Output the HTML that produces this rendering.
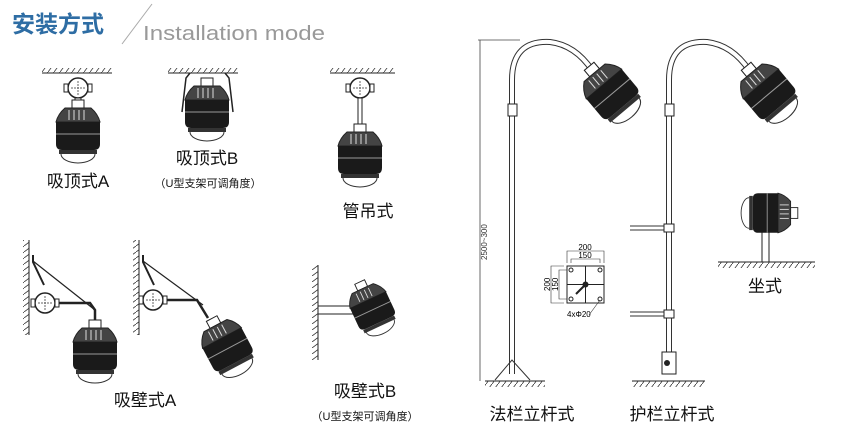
<!DOCTYPE html>
<html><head><meta charset="utf-8"><style>
html,body{margin:0;padding:0;background:#fff;}
svg{display:block;}
text{font-family:"Liberation Sans","Noto Sans CJK SC",sans-serif;}
</style></head><body>
<svg width="860" height="435" viewBox="0 0 860 435" xmlns="http://www.w3.org/2000/svg">
<defs>
<pattern id="h" width="6" height="8" patternUnits="userSpaceOnUse">
<line x1="0" y1="8" x2="6" y2="0" stroke="#333" stroke-width="0.8"/>
</pattern>
<pattern id="hv" width="8" height="6" patternUnits="userSpaceOnUse">
<line x1="0" y1="6" x2="8" y2="0" stroke="#333" stroke-width="0.8"/>
</pattern>
<g id="L">
<rect x="-6" y="-22" width="12" height="8" fill="#fff" stroke="#222"/>
<path d="M-13 -14 H13 Q20 -8 22 0 H-22 Q-20 -8 -13 -14 Z" fill="#444" stroke="#222"/>
<line x1="-9" y1="-12" x2="-9" y2="-2" stroke="#ddd"/><line x1="-4" y1="-12" x2="-4" y2="-2" stroke="#ddd"/><line x1="1" y1="-12" x2="1" y2="-2" stroke="#ddd"/><line x1="6" y1="-12" x2="6" y2="-2" stroke="#ddd"/>
<path d="M-22 0 H22 V22 Q22 28 16 28 H-16 Q-22 28 -22 22 Z" fill="#1a1a1a"/>
<line x1="-22" y1="12" x2="22" y2="12" stroke="#999"/>
<rect x="-19" y="28" width="38" height="4" fill="#333"/>
<path d="M-17 32 A17 9 0 0 0 17 32" fill="none" stroke="#333"/>
</g>
<g id="J">
<circle r="10" fill="#fff" stroke="#222" stroke-width="1.5"/>
<line x1="-7" y1="0" x2="7" y2="0" stroke="#666" stroke-dasharray="2 1"/>
<line x1="0" y1="-7" x2="0" y2="7" stroke="#666" stroke-dasharray="2 1"/>
<rect x="-14" y="-4" width="4" height="8" fill="#fff" stroke="#222"/>
<rect x="10" y="-4" width="4" height="8" fill="#fff" stroke="#222"/>
</g>
</defs>

<text x="12" y="32" font-size="23" font-weight="bold" fill="#2e6da4">安装方式</text>
<line x1="122" y1="44" x2="152" y2="4" stroke="#aaa"/>
<text x="143" y="40" font-size="20" fill="#999" textLength="182" lengthAdjust="spacingAndGlyphs">Installation mode</text>

<rect x="42" y="68" width="70" height="5" fill="url(#h)"/><line x1="42" y1="73" x2="112" y2="73" stroke="#222"/>
<use href="#J" x="78" y="88"/>
<rect x="75" y="98" width="6" height="4" fill="#fff" stroke="#222"/>
<use href="#L" transform="translate(78,122)"/>
<text x="78" y="187" font-size="17" text-anchor="middle" fill="#111">吸顶式A</text>

<rect x="168" y="68" width="70" height="5" fill="url(#h)"/><line x1="168" y1="73" x2="238" y2="73" stroke="#222"/>
<path d="M190 73 L186 78 L182 112 M225 73 L229 78 L233 112" fill="none" stroke="#222" stroke-width="1.5"/>
<use href="#L" transform="translate(207,100)"/>
<text x="207" y="164" font-size="17" text-anchor="middle" fill="#111">吸顶式B</text>
<text x="208" y="187" font-size="11" text-anchor="middle" fill="#111">（U型支架可调角度）</text>

<rect x="330" y="68" width="65" height="5" fill="url(#h)"/><line x1="330" y1="73" x2="395" y2="73" stroke="#222"/>
<use href="#J" x="360" y="88"/>
<rect x="358" y="98" width="4" height="26" fill="#fff" stroke="#222"/>
<use href="#L" transform="translate(360,146)"/>
<text x="368" y="217" font-size="17" text-anchor="middle" fill="#111">管吊式</text>

<rect x="23" y="240" width="6" height="95" fill="url(#hv)"/><line x1="29" y1="240" x2="29" y2="335" stroke="#222"/>
<path d="M33 255 L33 262 L44 285" fill="none" stroke="#222" stroke-width="2"/>
<line x1="33" y1="261" x2="95" y2="310" stroke="#222" stroke-width="1.2"/>
<use href="#J" x="45" y="303"/>
<path d="M59 303 H90 L95 310 V320" fill="none" stroke="#222" stroke-width="2.5"/>
<use href="#L" transform="translate(95,342)"/>

<rect x="133" y="240" width="6" height="95" fill="url(#hv)"/><line x1="139" y1="240" x2="139" y2="335" stroke="#222"/>
<path d="M143 255 L143 262 L154 285" fill="none" stroke="#222" stroke-width="2"/>
<line x1="143" y1="261" x2="203" y2="305" stroke="#222" stroke-width="1.2"/>
<use href="#J" x="153" y="300"/>
<path d="M167 300 H197 L208 318" fill="none" stroke="#222" stroke-width="2.5"/>
<use href="#L" transform="translate(222,338) rotate(-28)"/>
<text x="145" y="406" font-size="17" text-anchor="middle" fill="#111">吸壁式A</text>

<rect x="312" y="265" width="6" height="95" fill="url(#hv)"/><line x1="318" y1="265" x2="318" y2="360" stroke="#222"/>
<rect x="318" y="306" width="40" height="8" fill="#fff" stroke="#222"/>
<use href="#L" transform="translate(368,300) rotate(-25) scale(.9)"/>
<text x="365" y="397" font-size="17" text-anchor="middle" fill="#111">吸壁式B</text>
<text x="365" y="420" font-size="11" text-anchor="middle" fill="#111">（U型支架可调角度）</text>

<line x1="480" y1="40" x2="480" y2="381" stroke="#444" stroke-width=".8"/>
<line x1="478" y1="40" x2="520" y2="40" stroke="#444" stroke-width=".8"/>
<text transform="translate(487,260) rotate(-90)" font-size="8" fill="#333" font-family="Liberation Serif">2500~300</text>
<path d="M512 374 V80 Q512 40 550 42 Q575 45 592 70" fill="none" stroke="#333" stroke-width="6"/>
<path d="M512 374 V80 Q512 40 550 42 Q575 45 592 70" fill="none" stroke="#fff" stroke-width="4"/>
<rect x="508" y="104" width="9" height="12" fill="#fff" stroke="#222"/>
<path d="M495 380 L512 360 L530 380" fill="none" stroke="#333"/>
<line x1="485" y1="381" x2="545" y2="381" stroke="#222"/>
<rect x="485" y="381" width="60" height="6" fill="url(#h)"/>
<use href="#L" transform="translate(604,84) rotate(-40) scale(1.05)"/>

<rect x="567" y="266" width="37" height="37" fill="#fff" stroke="#222"/>
<line x1="585.5" y1="266" x2="585.5" y2="303" stroke="#222"/><line x1="567" y1="284.5" x2="604" y2="284.5" stroke="#222"/>
<circle cx="571" cy="270" r="2" fill="none" stroke="#222"/><circle cx="600" cy="270" r="2" fill="none" stroke="#222"/>
<circle cx="571" cy="299" r="2" fill="none" stroke="#222"/><circle cx="600" cy="299" r="2" fill="none" stroke="#222"/>
<circle cx="585.5" cy="284.5" r="3" fill="#222"/><line x1="576" y1="294" x2="585" y2="285" stroke="#222" stroke-width="2"/>
<path d="M567 263 V251 H604 V263 M571 263 V259 H600 V263 M564 266 H551 V303 H564 M567 270 H559 V299 H567" fill="none" stroke="#333" stroke-width=".6"/>
<text x="585" y="250" font-size="8" text-anchor="middle" font-family="Liberation Serif">200</text>
<text x="585" y="258" font-size="8" text-anchor="middle" font-family="Liberation Serif">150</text>
<text transform="translate(550,291) rotate(-90)" font-size="8" font-family="Liberation Serif">200</text>
<text transform="translate(558,291) rotate(-90)" font-size="8" font-family="Liberation Serif">150</text>
<text x="567" y="317" font-size="8" font-family="Liberation Serif">4xΦ20</text>
<line x1="589" y1="315" x2="600" y2="300" stroke="#333" stroke-width=".6"/>

<path d="M669 374 V80 Q669 40 707 42 Q732 45 749 70" fill="none" stroke="#333" stroke-width="6"/>
<path d="M669 374 V80 Q669 40 707 42 Q732 45 749 70" fill="none" stroke="#fff" stroke-width="4"/>
<rect x="665" y="104" width="9" height="12" fill="#fff" stroke="#222"/>
<path d="M630 226 H665 M630 230 H665 M630 312 H665 M630 316 H665" stroke="#333"/>
<rect x="664" y="224" width="10" height="8" fill="#fff" stroke="#222"/>
<rect x="664" y="310" width="10" height="8" fill="#fff" stroke="#222"/>
<rect x="662" y="352" width="14" height="22" fill="#fff" stroke="#222"/>
<circle cx="667" cy="363" r="3" fill="#222"/>
<line x1="632" y1="381" x2="705" y2="381" stroke="#222"/>
<rect x="632" y="381" width="73" height="6" fill="url(#h)"/>
<use href="#L" transform="translate(761,84) rotate(-40) scale(1.05)"/>

<rect x="762" y="225" width="7" height="37" fill="#fff" stroke="#222"/>
<use href="#L" transform="translate(778,213) rotate(90) scale(.9)"/>
<line x1="718" y1="262" x2="815" y2="262" stroke="#222"/>
<rect x="718" y="262" width="97" height="6" fill="url(#h)"/>
<text x="765" y="292" font-size="17" text-anchor="middle" fill="#111">坐式</text>

<text x="532" y="420" font-size="17" text-anchor="middle" fill="#111">法栏立杆式</text>
<text x="672" y="420" font-size="17" text-anchor="middle" fill="#111">护栏立杆式</text>
</svg>
</body></html>
